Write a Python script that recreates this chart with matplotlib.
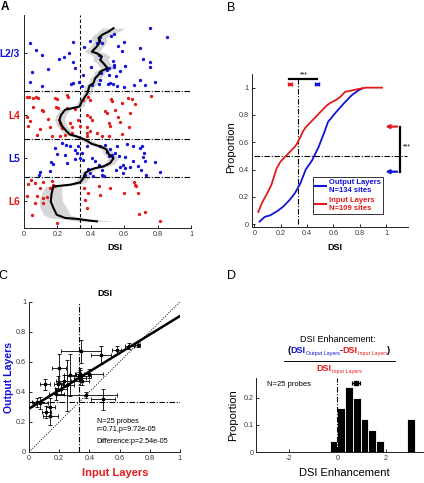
import numpy as np
import matplotlib
matplotlib.use('Agg')
import matplotlib.pyplot as plt
from matplotlib.transforms import IdentityTransform
from matplotlib.lines import Line2D

plt.rcParams['font.family'] = ['Liberation Sans', 'DejaVu Sans']

BLUE = '#1212d8'
RED = '#e21b1b'
TICKC = '#3a3a3a'
W, H = 424, 483

# ---------------- Panel A data ----------------
a_l23_x = [0.036,0.070,0.106,0.292,0.360,0.396,0.450,0.466,0.212,0.240,0.270,0.292,0.402,0.050,0.146,0.306,0.356,0.036,0.106,0.280,
           0.292,0.332,0.346,0.406,0.446,0.456,0.502,0.460,0.506,0.756,0.856,0.522,0.536,0.600,0.562,0.586,0.692,0.710,0.756,0.752,
           0.606,0.574,0.530,0.540,0.536,0.506,0.550,0.516,0.530,0.556,0.600,0.656,0.692,0.726,0.782,0.456,0.436,0.448,0.496]
a_l23_d = [0.133,0.164,0.188,0.128,0.152,0.120,0.117,0.133,0.206,0.198,0.180,0.223,0.242,0.269,0.255,0.247,0.284,0.316,0.333,0.323,
           0.320,0.316,0.333,0.328,0.323,0.305,0.323,0.273,0.281,0.062,0.105,0.098,0.089,0.128,0.148,0.167,0.153,0.208,0.219,0.242,
           0.239,0.261,0.214,0.234,0.242,0.250,0.286,0.320,0.323,0.333,0.336,0.330,0.305,0.328,0.317,0.102,0.133,0.188,0.258]
a_l5_x = [0.226,0.252,0.186,0.200,0.276,0.306,0.326,0.320,0.346,0.380,0.456,0.486,0.496,0.516,0.556,0.546,0.616,0.652,0.692,0.706,
          0.716,0.506,0.526,0.566,0.606,0.590,0.576,0.606,0.636,0.650,0.710,0.722,0.786,0.816,0.730,0.702,0.550,0.590,0.162,0.172,
          0.156,0.096,0.090,0.256,0.306,0.406,0.426,0.386,0.396,0.366,0.446,0.466,0.466,0.476,0.416,0.336,0.356,0.246,0.680]
a_l5_d = [0.602,0.612,0.625,0.652,0.617,0.633,0.614,0.648,0.648,0.617,0.617,0.609,0.641,0.628,0.617,0.648,0.605,0.617,0.625,0.617,
          0.648,0.664,0.656,0.664,0.669,0.703,0.714,0.719,0.716,0.684,0.669,0.684,0.688,0.738,0.750,0.727,0.727,0.742,0.691,0.700,
          0.731,0.739,0.750,0.695,0.675,0.672,0.684,0.722,0.742,0.750,0.703,0.727,0.753,0.755,0.755,0.672,0.680,0.659,0.711]
a_l4_x = [0.016,0.032,0.056,0.072,0.086,0.186,0.196,0.256,0.266,0.356,0.386,0.396,0.520,0.526,0.586,0.622,0.646,0.662,0.762,0.056,
          0.106,0.116,0.192,0.206,0.256,0.306,0.486,0.496,0.542,0.636,0.016,0.036,0.146,0.212,0.216,0.220,0.276,0.326,0.376,0.396,
          0.406,0.560,0.572,0.506,0.026,0.096,0.156,0.226,0.286,0.336,0.380,0.516,0.626,0.076,0.166,0.216,0.246,0.286,0.376,0.380,
          0.396,0.436,0.466,0.510,0.586]
a_l4_d = [0.383,0.386,0.388,0.383,0.392,0.388,0.394,0.375,0.386,0.398,0.386,0.398,0.395,0.406,0.414,0.391,0.395,0.417,0.380,0.434,
          0.445,0.453,0.433,0.438,0.439,0.442,0.453,0.458,0.448,0.458,0.477,0.500,0.488,0.492,0.505,0.516,0.508,0.495,0.469,0.480,
          0.495,0.480,0.503,0.508,0.523,0.536,0.527,0.531,0.528,0.520,0.527,0.520,0.527,0.562,0.567,0.566,0.562,0.555,0.555,0.567,
          0.547,0.555,0.570,0.567,0.558]
a_l6_x = [0.026,0.066,0.096,0.116,0.166,0.176,0.186,0.016,0.076,0.112,0.136,0.066,0.116,0.046,0.196,0.360,0.386,0.366,0.376,0.446,
          0.456,0.516,0.596,0.656,0.666,0.672,0.682,0.686,0.726,0.816,0.040,0.156]
a_l6_d = [0.794,0.789,0.812,0.784,0.781,0.797,0.805,0.852,0.852,0.859,0.855,0.883,0.883,0.938,0.977,0.812,0.836,0.867,0.906,0.805,
          0.844,0.812,0.836,0.784,0.797,0.805,0.836,0.934,0.925,0.969,0.773,0.812]

a_med_x = [0.536,0.506,0.466,0.446,0.456,0.436,0.406,0.436,0.466,0.456,0.476,0.500,0.456,0.446,0.426,0.416,0.392,0.386,0.380,0.366,
           0.346,0.332,0.246,0.222,0.212,0.226,0.256,0.276,0.316,0.366,0.406,0.456,0.492,0.506,0.536,0.516,0.476,0.426,0.396,0.366,
           0.356,0.336,0.276,0.176,0.166,0.160,0.176,0.196,0.246,0.326,0.396,0.436]
a_med_d = [0.062,0.078,0.094,0.109,0.125,0.148,0.172,0.180,0.195,0.211,0.227,0.250,0.266,0.281,0.297,0.320,0.333,0.348,0.367,0.383,
           0.406,0.430,0.445,0.469,0.492,0.520,0.547,0.562,0.570,0.586,0.605,0.617,0.630,0.652,0.672,0.695,0.711,0.719,0.727,0.742,
           0.766,0.786,0.797,0.805,0.836,0.875,0.906,0.938,0.953,0.958,0.966,0.969]
a_band_hw = [0.07,0.06,0.05,0.045,0.04,0.04,0.045,0.05,0.05,0.045,0.04,0.04,0.035,0.03,0.03,0.03,0.03,0.025,0.025,0.025,
             0.025,0.025,0.03,0.03,0.03,0.03,0.03,0.03,0.03,0.03,0.03,0.03,0.03,0.03,0.03,0.03,0.03,0.03,0.03,0.03,
             0.03,0.035,0.04,0.05,0.06,0.07,0.08,0.08,0.09,0.09,0.10,0.11]

layer_bounds = [0.356, 0.583, 0.761]
layer_names = ['L2/3', 'L4', 'L5', 'L6']
layer_pos = [0.18, 0.47, 0.67, 0.875]
layer_colors = [BLUE, RED, BLUE, RED]
dsi_thresh = 1 / 3

# ---------------- Panel B data ----------------
b_in_x = [0.03,0.06,0.10,0.13,0.17,0.20,0.23,0.26,0.29,0.31,0.33,0.35,0.37,0.39,0.44,0.48,0.51,0.55,0.58,0.62,0.65,0.69,0.72,0.79,0.85,0.97]
b_in_y = [0.09,0.16,0.23,0.29,0.41,0.46,0.49,0.52,0.55,0.57,0.60,0.64,0.68,0.71,0.76,0.80,0.83,0.87,0.89,0.91,0.93,0.97,0.975,0.99,1.0,1.0]
b_out_x = [0.04,0.08,0.12,0.18,0.22,0.27,0.31,0.35,0.39,0.44,0.46,0.49,0.53,0.56,0.62,0.68,0.74,0.79,0.82]
b_out_y = [0.02,0.055,0.065,0.10,0.13,0.18,0.23,0.30,0.40,0.47,0.51,0.57,0.67,0.75,0.82,0.885,0.945,0.98,0.995]
b_median_in, b_median_out, b_median_ci = 0.27, 0.475, 0.015
b_frac_in, b_frac_out = 0.715, 0.385
b_labels = ['Output Layers\nN=134 sites', 'Input Layers\nN=109 sites']

# ---------------- Panel C data ----------------
c_x = [0.345,0.475,0.58,0.665,0.72,0.20,0.27,0.335,0.34,0.35,0.33,0.40,0.105,0.195,0.215,0.18,0.255,0.38,0.49,0.075,0.14,0.115,0.14,0.05,0.23]
c_y = [0.670,0.645,0.680,0.708,0.715,0.560,0.510,0.520,0.495,0.475,0.505,0.520,0.450,0.455,0.420,0.385,0.445,0.378,0.350,0.325,0.300,0.265,0.240,0.330,0.470]
c_xerr = [0.13,0.065,0.03,0.03,0.015,0.045,0.04,0.03,0.04,0.05,0.08,0.09,0.035,0.03,0.04,0.05,0.04,0.20,0.08,0.05,0.03,0.03,0.05,0.03,0.05]
c_yerr = [0.075,0.06,0.025,0.02,0.015,0.095,0.14,0.04,0.05,0.03,0.03,0.03,0.035,0.05,0.04,0.04,0.17,0.02,0.07,0.04,0.06,0.04,0.06,0.03,0.04]
c_fit_slope, c_fit_intercept = 0.617, 0.288
c_stats = ['N=25 probes', 'r=0.71,p=9.72e-05', 'Difference:p=2.54e-05']

# ---------------- Panel D data ----------------
d_bin_left = [-0.32, 0.0, 0.32, 0.64, 0.96, 1.28, 1.60, 2.88]
d_prop = [0.04, 0.16, 0.24, 0.20, 0.12, 0.08, 0.04, 0.12]
d_bin_w = 0.32
d_mean, d_mean_err = 0.78, 0.17

fig = plt.figure(figsize=(W / 100, H / 100), dpi=100)


def fx(px):
    return px / W


def fy(py):
    return 1 - py / H


def style_ax(ax):
    for s in ['top', 'right']:
        ax.spines[s].set_visible(False)
    for s in ['left', 'bottom']:
        ax.spines[s].set_linewidth(0.7)
        ax.spines[s].set_color('#222222')
    ax.tick_params(direction='in', length=2, width=0.6, labelsize=5.2, labelcolor=TICKC, pad=2)


dashdot = (0, (5, 1.5, 1, 1.5))

# ---------------- Panel A ----------------
axA = fig.add_axes([0.0566, 0.528, 0.394, 0.441])
style_ax(axA)
mx = np.array(a_med_x); md = np.array(a_med_d); hw = np.array(a_band_hw)
axA.fill_betweenx(md, mx - hw, mx + hw, color='#d6d6d6', lw=0, zorder=1)
for b in layer_bounds:
    axA.plot([0, 1], [b, b], color='k', lw=0.8, ls=dashdot, zorder=2)
axA.axvline(dsi_thresh, color='k', lw=0.8, ls=(0, (3, 2)), zorder=2)
axA.plot(a_l23_x + a_l5_x, a_l23_d + a_l5_d, 'o', color=BLUE, ms=2.4, mew=0, zorder=3)
axA.plot(a_l4_x + a_l6_x, a_l4_d + a_l6_d, 'o', color=RED, ms=2.4, mew=0, zorder=3)
axA.plot(mx, md, color='k', lw=1.5, zorder=4)
axA.set_xlim(0, 1)
axA.set_ylim(1, 0)
axA.set_xticks([0, 0.2, 0.4, 0.6, 0.8, 1])
axA.set_xticklabels(['0', '0.2', '0.4', '0.6', '0.8', '1'])
axA.set_yticks(layer_pos)
axA.set_yticklabels(layer_names, fontsize=7.3, fontweight='bold')
for t, c in zip(axA.get_yticklabels(), layer_colors):
    t.set_color(c)
axA.tick_params(axis='y', pad=3)

# ---------------- Panel B ----------------
axB = fig.add_axes([0.5936, 0.530, 0.3696, 0.3168])
style_ax(axB)
axB.plot(b_out_x, b_out_y, color=BLUE, lw=1.3, zorder=3)
axB.plot(b_in_x, b_in_y, color=RED, lw=1.3, zorder=3)
axB.plot([dsi_thresh, dsi_thresh], [0, 1.07], color='k', lw=0.8, ls=dashdot, clip_on=False)
axB.plot([0, 1.16], [0.5, 0.5], color='k', lw=0.8, ls=dashdot, clip_on=False)
axB.plot([b_median_in - 0.003, b_median_out + 0.003], [1.064, 1.064], color='k', lw=1.6, clip_on=False)
axB.text((b_median_in + b_median_out) / 2, 1.07, '***', ha='center', va='bottom', fontsize=5)
axB.errorbar([b_median_in], [1.03], xerr=[b_median_ci], fmt='s', color=RED, ms=2, elinewidth=1, capsize=1.5, clip_on=False)
axB.errorbar([b_median_out], [1.03], xerr=[b_median_ci], fmt='s', color=BLUE, ms=2, elinewidth=1, capsize=1.5, clip_on=False)
for yv, col in [(b_frac_in, RED), (b_frac_out, BLUE)]:
    axB.annotate('', xy=(0.995, yv), xytext=(1.085, yv),
                 arrowprops=dict(arrowstyle='-|>', color=col, lw=1.6, mutation_scale=5, shrinkA=0, shrinkB=0),
                 annotation_clip=False)
axB.plot([1.11, 1.11], [b_frac_out, b_frac_in], color='k', lw=1.6, clip_on=False)
axB.text(1.13, (b_frac_in + b_frac_out) / 2 + 0.02, '***', ha='left', va='center', fontsize=5, clip_on=False)
axB.set_xlim(-0.02, 1.17)
axB.set_ylim(-0.02, 1.1)
axB.set_xticks([0, 0.2, 0.4, 0.6, 0.8, 1])
axB.set_xticklabels(['0', '0.2', '0.4', '0.6', '0.8', '1'])
axB.set_yticks([0, 0.2, 0.4, 0.6, 0.8, 1])
axB.set_yticklabels(['0', '0.2', '0.4', '0.6', '0.8', '1'])
handles = [Line2D([], [], color=BLUE, lw=1.5), Line2D([], [], color=RED, lw=1.5)]
leg = axB.legend(handles, b_labels, loc='lower right', bbox_to_anchor=(0.84, 0.085),
                 prop={'size': 5.5, 'weight': 'bold'}, frameon=True, fancybox=False,
                 handlelength=1.4, handletextpad=0.4, borderpad=0.3, labelspacing=0.35,
                 borderaxespad=0)
leg.get_frame().set_edgecolor('k')
leg.get_frame().set_linewidth(0.7)
for t, c in zip(leg.get_texts(), [BLUE, RED]):
    t.set_color(c)

# ---------------- Panel C ----------------
axC = fig.add_axes([0.0684, 0.0642, 0.356, 0.311])
style_ax(axC)
axC.plot([0, 1], [0, 1], color='k', lw=0.7, ls=(0, (1, 1.5)))
axC.axvline(dsi_thresh, color='k', lw=0.8, ls=dashdot)
axC.axhline(dsi_thresh, color='k', lw=0.8, ls=dashdot)
xf = np.array([0, 1])
axC.plot(xf, c_fit_intercept + c_fit_slope * xf, color='k', lw=1.8, zorder=4)
axC.errorbar(c_x, c_y, xerr=c_xerr, yerr=c_yerr, fmt='s', color='k', ms=2, elinewidth=0.6,
             capsize=1.3, capthick=0.6, zorder=5)
for i, s in enumerate(c_stats):
    axC.text(0.448, [0.2, 0.15, 0.069][i], s, fontsize=5.2, ha='left', va='center')
axC.set_xlim(0, 1)
axC.set_ylim(0, 1)
axC.set_xticks([0, 0.2, 0.4, 0.6, 0.8, 1])
axC.set_xticklabels(['0', '0.2', '0.4', '0.6', '0.8', '1'])
axC.set_yticks([0, 0.2, 0.4, 0.6, 0.8, 1])
axC.set_yticklabels(['0', '0.2', '0.4', '0.6', '0.8', '1'])

# ---------------- Panel D ----------------
axD = fig.add_axes([0.6045, 0.0636, 0.392, 0.153])
style_ax(axD)
axD.bar(d_bin_left, d_prop, width=d_bin_w, align='edge', color='k', edgecolor='white', lw=0.6, zorder=2)
axD.plot([0, 0], [0, 0.27], color='k', lw=0.8, ls=dashdot, zorder=3)
axD.errorbar([d_mean], [0.253], xerr=[d_mean_err], fmt='s', color='k', ms=2.2, elinewidth=0.9,
             capsize=1.5, capthick=0.9, clip_on=False, zorder=4)
axD.text(-2.89, 0.247, 'N=25 probes', fontsize=5.5, ha='left', va='center')
axD.set_xlim(-3.33, 3.5)
axD.set_ylim(0, 0.27)
axD.set_xticks([-2, 0, 2])
axD.set_xticklabels(['-2', '0', '2'])
axD.set_yticks([0, 0.1, 0.2])
axD.set_yticklabels(['0', '0.1', '0.2'])

# ---------------- Labels ----------------
fig.text(fx(5), fy(7), 'A', fontsize=8.5, fontweight='bold', ha='center', va='center')
fig.text(fx(231), fy(8), 'B', fontsize=9, ha='center', va='center')
fig.text(fx(3), fy(276), 'C', fontsize=9, ha='center', va='center')
fig.text(fx(232), fy(276), 'D', fontsize=9, ha='center', va='center')

fig.text(fx(115), fy(247), 'DSI', fontsize=6.5, fontweight='bold', ha='center', va='center')
fig.text(fx(335), fy(247), 'DSI', fontsize=6.5, fontweight='bold', ha='center', va='center')
fig.text(fx(231), fy(147), 'Proportion', fontsize=8, rotation=90, ha='center', va='center')
fig.text(fx(105), fy(293), 'DSI', fontsize=6.5, fontweight='bold', ha='center', va='center')
fig.text(fx(115), fy(473), 'Input Layers', fontsize=8, fontweight='bold', color=RED, ha='center', va='center')
fig.text(fx(9.5), fy(377), 'Output Layers', fontsize=7.6, fontweight='bold', color=BLUE, rotation=90, ha='center', va='center')
fig.text(fx(344), fy(473), 'DSI Enhancement', fontsize=8, ha='center', va='center')
fig.text(fx(233), fy(415), 'Proportion', fontsize=8, rotation=90, ha='center', va='center')

# formula above D
fig.text(fx(338), fy(339), 'DSI Enhancement:', fontsize=6.5, ha='center', va='center')
renderer = fig.canvas.get_renderer()


def rich(cx, base_y, parts):
    texts = []
    for s, col, fs, wt, dy in parts:
        t = fig.text(0, base_y + dy, s, color=col, fontsize=fs, fontweight=wt,
                     transform=IdentityTransform(), ha='left', va='baseline')
        texts.append(t)
    widths = [t.get_window_extent(renderer).width for t in texts]
    x = cx - sum(widths) / 2
    for t, w in zip(texts, widths):
        t.set_x(x)
        x += w


num_parts = [('(', 'k', 6.5, 'bold', 0),
             ('DSI', BLUE, 6.5, 'bold', 0),
             ('Output Layers', BLUE, 3.9, 'normal', -2),
             ('-', 'k', 6.5, 'bold', 0),
             ('DSI', RED, 6.5, 'bold', 0),
             ('Input Layers', RED, 3.9, 'normal', -2),
             (')', 'k', 6.5, 'bold', 0)]
rich(339, H - 353, num_parts)
fig.add_artist(Line2D([fx(284), fx(395)], [fy(361), fy(361)], color='k', lw=0.7))
den_parts = [('DSI', RED, 6.5, 'bold', 0),
             ('Input Layers', RED, 3.9, 'normal', -2)]
rich(339, H - 371, den_parts)

fig.savefig('out.png', dpi=100)
